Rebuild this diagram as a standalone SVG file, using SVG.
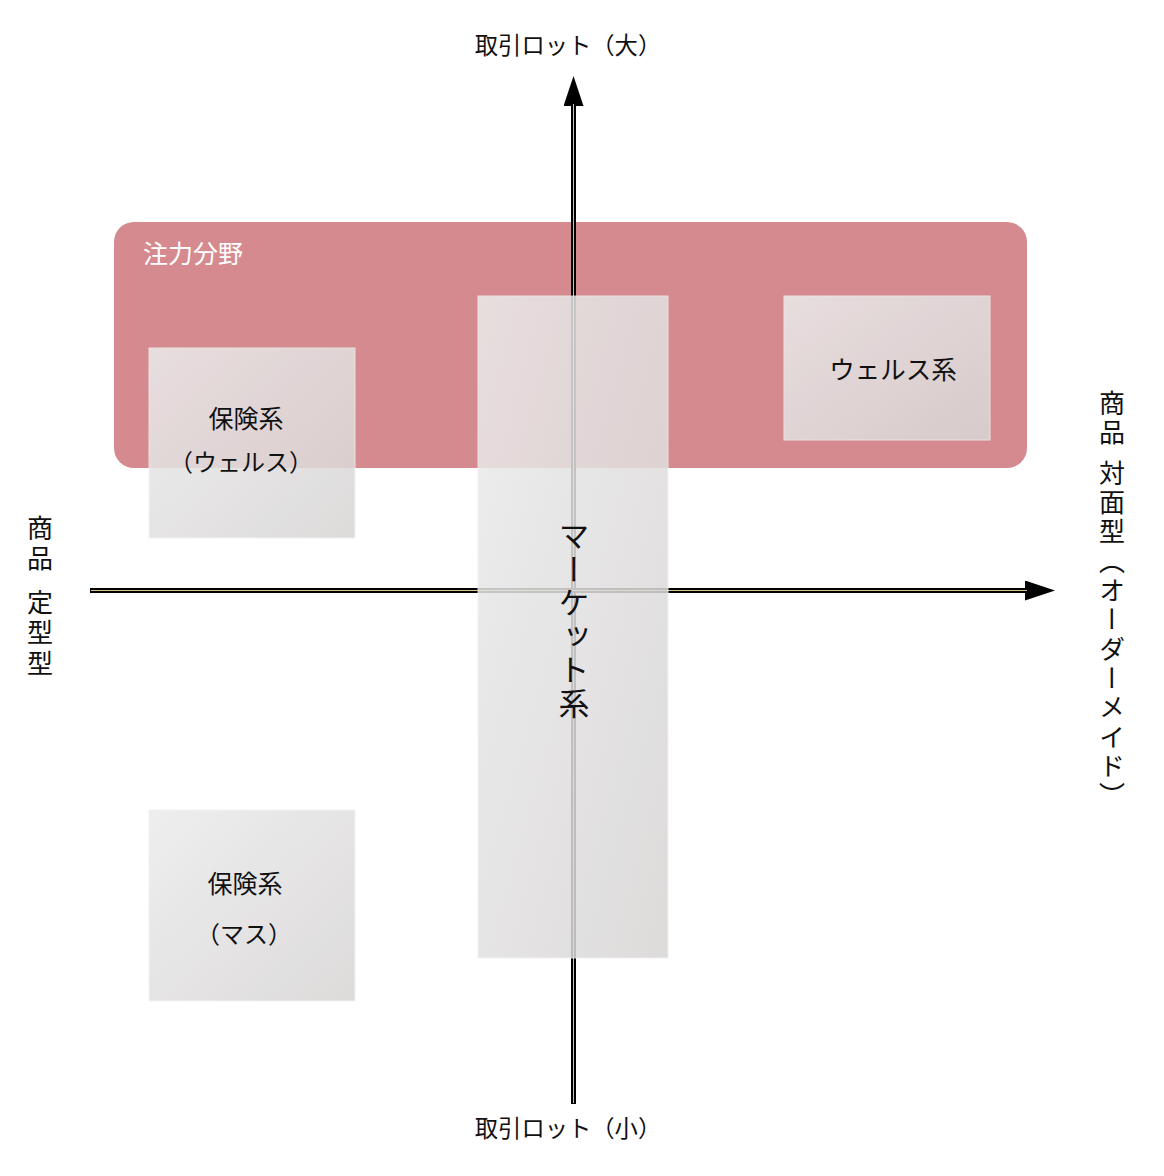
<svg xmlns="http://www.w3.org/2000/svg" width="1164" height="1176" viewBox="0 0 1164 1176">
<defs>
<linearGradient id="g" x1="0" y1="0" x2="1" y2="1">
<stop offset="0" stop-color="#ececec"/>
<stop offset="1" stop-color="#d8d5d5"/>
</linearGradient>
<marker id="ah" viewBox="0 0 30 20" refX="2" refY="10" markerWidth="30" markerHeight="20" markerUnits="userSpaceOnUse" orient="auto">
<path d="M0,0 L30,10 L0,20 Z" fill="#000"/>
</marker>
</defs>
<style>
text{font-family:"Noto Sans CJK JP","Noto Sans CJK SC",sans-serif;fill:#111;}
.box{fill:url(#g);opacity:0.86;stroke:#f0f0f0;stroke-width:1;}
.ax{stroke:#000;stroke-width:5;fill:none;}
.axi{stroke:#d8c28a;stroke-width:1;fill:none;}
.v{writing-mode:vertical-rl;}
.vl{writing-mode:vertical-rl;text-spacing-trim:space-all;}
</style>
<rect width="1164" height="1176" fill="#fff"/>
<g id="focus">
<rect x="114" y="222" width="913" height="246" rx="20" fill="#d48a8e"/>
<text x="143" y="263" font-size="25" style="fill:#fff">注力分野</text>
</g>
<g id="connectors">
<line class="ax" x1="573.5" y1="1104" x2="573.5" y2="104" marker-end="url(#ah)"/>
<line class="axi" x1="573.5" y1="1103" x2="573.5" y2="104"/>
<line class="ax" x1="90" y1="590.5" x2="1027" y2="590.5" marker-end="url(#ah)"/>
<line class="axi" x1="91" y1="590.5" x2="1027" y2="590.5"/>
</g>
<g id="top-label"><text x="568" y="54" font-size="23.3" text-anchor="middle">取引ロット（大）</text></g>
<g id="bottom-label"><text x="568" y="1137" font-size="23.3" text-anchor="middle">取引ロット（小）</text></g>
<g id="left-label"><text class="vl" x="40" y="515" font-size="26" letter-spacing="4.6">商品 <tspan dy="2">定型型</tspan></text></g>
<g id="right-label"><text class="vl" x="1112" y="390" font-size="26" letter-spacing="3.3">商品 <tspan dy="2">対面型（オーダーメイド）</tspan></text></g>
<g id="hoken-wealth">
<rect class="box" x="149" y="348" width="206" height="190"/>
<text x="246" y="428" font-size="25" text-anchor="middle">保険系</text>
<text x="241" y="471" font-size="24" text-anchor="middle">（ウェルス）</text>
</g>
<g id="wealth">
<rect class="box" x="784" y="296" width="206" height="144"/>
<text x="893" y="379" font-size="25.5" text-anchor="middle">ウェルス系</text>
</g>
<g id="hoken-mass">
<rect class="box" x="149" y="810" width="206" height="191"/>
<text x="245" y="893" font-size="25" text-anchor="middle">保険系</text>
<text x="244" y="943" font-size="24" text-anchor="middle">（マス）</text>
</g>
<g id="market">
<rect class="box" x="478" y="296" width="190" height="662"/>
<text class="v" x="574" y="520" font-size="31" letter-spacing="2.5">マーケット系</text>
</g>
</svg>
